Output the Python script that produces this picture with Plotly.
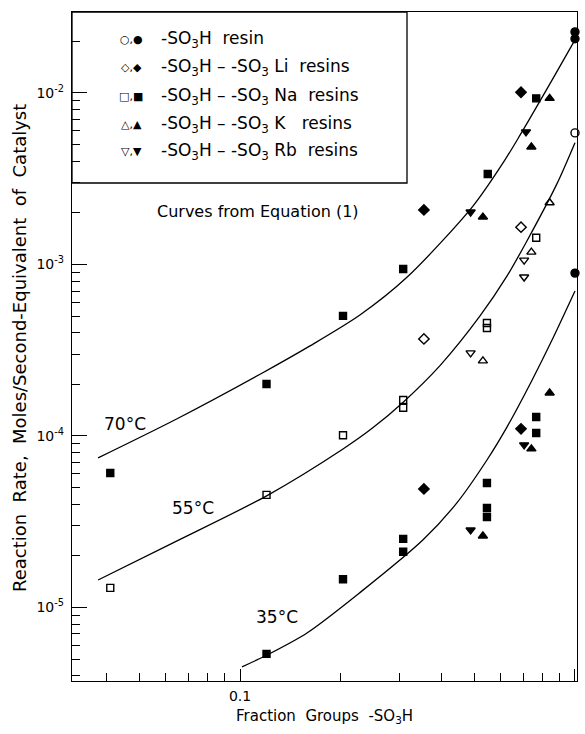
import plotly.graph_objects as go

# ---------------- data ----------------
# -SO3H resin
h_open_x = [1.0]
h_open_y = [5.85e-3]
h_fill_x = [1.0, 1.0, 1.0]
h_fill_y = [2.27e-2, 2.07e-2, 8.9e-4]
# -SO3H - -SO3Li resins
li_open_x = [0.69, 0.354]
li_open_y = [1.65e-3, 3.68e-4]
li_fill_x = [0.69, 0.354, 0.69, 0.354]
li_fill_y = [1.01e-2, 2.08e-3, 1.10e-4, 4.91e-5]
# -SO3H - -SO3Na resins
na_open_x = [0.041, 0.12, 0.203, 0.307, 0.307, 0.546, 0.546, 0.766]
na_open_y = [1.30e-5, 4.53e-5, 1.01e-4, 1.62e-4, 1.46e-4, 4.56e-4, 4.26e-4, 1.43e-3]
na_fill_x = [0.041, 0.12, 0.203, 0.307, 0.549, 0.766,
             0.12, 0.203, 0.307, 0.307, 0.546, 0.546, 0.546, 0.766, 0.766]
na_fill_y = [6.08e-5, 2.01e-4, 5.01e-4, 9.41e-4, 3.37e-3, 9.3e-3,
             5.36e-6, 1.46e-5, 2.51e-5, 2.11e-5, 5.32e-5, 3.80e-5, 3.37e-5, 1.29e-4, 1.04e-4]
# -SO3H - -SO3K resins
k_open_x = [0.84, 0.741, 0.531]
k_open_y = [2.29e-3, 1.18e-3, 2.74e-4]
k_fill_x = [0.84, 0.741, 0.531, 0.84, 0.741, 0.531]
k_fill_y = [9.3e-3, 4.84e-3, 1.89e-3, 1.78e-4, 8.4e-5, 2.61e-5]
# -SO3H - -SO3Rb resins
rb_open_x = [0.705, 0.705, 0.488]
rb_open_y = [1.06e-3, 8.45e-4, 3.05e-4]
rb_fill_x = [0.714, 0.488, 0.705, 0.488]
rb_fill_y = [5.93e-3, 2.02e-3, 8.87e-5, 2.83e-5]

# Curves from Equation (1)
c70_x = [0.0377, 0.0649, 0.1148, 0.1618, 0.228, 0.315, 0.496, 0.618, 0.686, 0.771, 0.871, 1.0]
c70_y = [7.45e-5, 1.26e-4, 2.29e-4, 3.35e-4, 5.07e-4, 8.41e-4, 2.19e-3, 4.07e-3, 5.69e-3, 8.41e-3, 1.27e-2, 2.04e-2]
c55_x = [0.0377, 0.0631, 0.1205, 0.203, 0.248, 0.307, 0.396, 0.520, 0.627, 0.720, 0.883, 1.0]
c55_y = [1.445e-5, 2.38e-5, 4.49e-5, 8.39e-5, 1.107e-4, 1.574e-4, 2.58e-4, 4.99e-4, 8.57e-4, 1.38e-3, 2.95e-3, 5.13e-3]
c35_x = [0.1014, 0.1204, 0.1585, 0.228, 0.352, 0.444, 0.546, 0.627, 0.745, 0.859, 1.0]
c35_y = [4.50e-6, 5.28e-6, 7.1e-6, 1.22e-5, 2.48e-5, 4.07e-5, 7.24e-5, 1.13e-4, 2.12e-4, 3.71e-4, 7.0e-4]

y_tickvals = [1e-5, 1e-4, 1e-3, 1e-2]
y_ticktext = ["10<sup>-5</sup>", "10<sup>-4</sup>", "10<sup>-3</sup>", "10<sup>-2</sup>"]
y_minor = [m * 10.0 ** e for e in (-6, -5, -4, -3) for m in range(2, 10)] + [2e-2]
x_tickvals = [0.1, 1.0]
x_ticktext = ["0.1", "1.0"]
x_minor = [m * 0.01 for m in range(4, 10)] + [m * 0.1 for m in range(2, 10)]

FONT = "DejaVu Sans"

W, H = 585, 734
L, R, T, B = 72, 8, 12, 53
pw, ph = W - L - R, H - T - B
XR = [-1.5015, 0.006]
YR = [-5.429, -1.528]

def px(x):
    return (x - L) / pw

def py(y):
    return (H - B - y) / ph

fig = go.Figure()

for cx, cy in [(c70_x, c70_y), (c55_x, c55_y), (c35_x, c35_y)]:
    fig.add_trace(go.Scatter(x=cx, y=cy, mode="lines",
                             line=dict(color="black", width=1.3, shape="spline", smoothing=0.8),
                             hoverinfo="skip", showlegend=False))

series = [
    (h_open_x, h_open_y, "circle-open"), (h_fill_x, h_fill_y, "circle"),
    (li_open_x, li_open_y, "diamond-open"), (li_fill_x, li_fill_y, "diamond"),
    (na_open_x, na_open_y, "square-open"), (na_fill_x, na_fill_y, "square"),
    (k_open_x, k_open_y, "triangle-up-open"), (k_fill_x, k_fill_y, "triangle-up"),
    (rb_open_x, rb_open_y, "triangle-down-open"), (rb_fill_x, rb_fill_y, "triangle-down"),
]
for sx, sy, sym in series:
    size = 7 if "square" in sym else 8
    fig.add_trace(go.Scatter(x=sx, y=sy, mode="markers", cliponaxis=False, showlegend=False,
                             marker=dict(symbol=sym, size=size, color="black",
                                         line=dict(color="black", width=1.4))))

fig.update_layout(
    width=W, height=H, margin=dict(l=L, r=R, t=T, b=B),
    paper_bgcolor="white", plot_bgcolor="white",
    font=dict(family=FONT, color="black", size=13),
    xaxis=dict(type="log", range=XR, showgrid=False, zeroline=False,
               showline=True, linecolor="black", linewidth=1.3, mirror=True,
               ticks="inside", ticklen=12, tickwidth=1.2, tickcolor="black",
               tickvals=x_tickvals, ticktext=x_ticktext, tickfont=dict(size=14),
               ticklabelstandoff=2,
               minor=dict(ticks="inside", ticklen=8, tickwidth=1.2, tickcolor="black",
                          tickvals=x_minor, showgrid=False)),
    yaxis=dict(type="log", range=YR, showgrid=False, zeroline=False,
               showline=True, linecolor="black", linewidth=1.3, mirror=True,
               ticks="inside", ticklen=15, tickwidth=1.2, tickcolor="black",
               tickvals=y_tickvals, ticktext=y_ticktext, tickfont=dict(size=14),
               ticklabelstandoff=4,
               minor=dict(ticks="inside", ticklen=8, tickwidth=1.2, tickcolor="black",
                          tickvals=y_minor, showgrid=False)),
)

# legend box
fig.add_shape(type="rect", xref="paper", yref="paper", x0=0, x1=px(407), y0=py(183), y1=1,
              line=dict(color="black", width=1.3), fillcolor="rgba(0,0,0,0)")

leg_rows = [
    ("○,●", "-SO<sub>3</sub>H  resin", 40),
    ("◇,◆", "-SO<sub>3</sub>H – -SO<sub>3</sub> Li  resins", 68),
    ("□,■", "-SO<sub>3</sub>H – -SO<sub>3</sub> Na  resins", 96),
    ("△,▲", "-SO<sub>3</sub>H – -SO<sub>3</sub> K   resins", 124),
    ("▽,▼", "-SO<sub>3</sub>H – -SO<sub>3</sub> Rb  resins", 151),
]
for sym, txt, yy in leg_rows:
    fig.add_annotation(xref="paper", yref="paper", x=px(131), y=py(yy), text=sym, showarrow=False,
                       xanchor="center", yanchor="middle", font=dict(size=11))
    fig.add_annotation(xref="paper", yref="paper", x=px(159), y=py(yy), text=txt, showarrow=False,
                       xanchor="left", yanchor="middle", font=dict(size=17))

fig.add_annotation(xref="paper", yref="paper", x=px(258), y=py(211), text="Curves from Equation (1)",
                   showarrow=False, xanchor="center", yanchor="middle", font=dict(size=16))
fig.add_annotation(xref="paper", yref="paper", x=px(125), y=py(424), text="70°C",
                   showarrow=False, xanchor="center", yanchor="middle", font=dict(size=17))
fig.add_annotation(xref="paper", yref="paper", x=px(193), y=py(508), text="55°C",
                   showarrow=False, xanchor="center", yanchor="middle", font=dict(size=17))
fig.add_annotation(xref="paper", yref="paper", x=px(277), y=py(617), text="35°C",
                   showarrow=False, xanchor="center", yanchor="middle", font=dict(size=17))

# axis titles
fig.add_annotation(xref="paper", yref="paper", x=px(324), y=py(716),
                   text="Fraction  Groups  -SO<sub>3</sub>H", showarrow=False,
                   xanchor="center", yanchor="middle", font=dict(size=15))
fig.add_annotation(xref="paper", yref="paper", x=px(19), y=py(348), textangle=-90,
                   text="Reaction  Rate,  Moles/Second-Equivalent  of  Catalyst", showarrow=False,
                   xanchor="center", yanchor="middle", font=dict(size=18))

fig.write_html("out.html")
